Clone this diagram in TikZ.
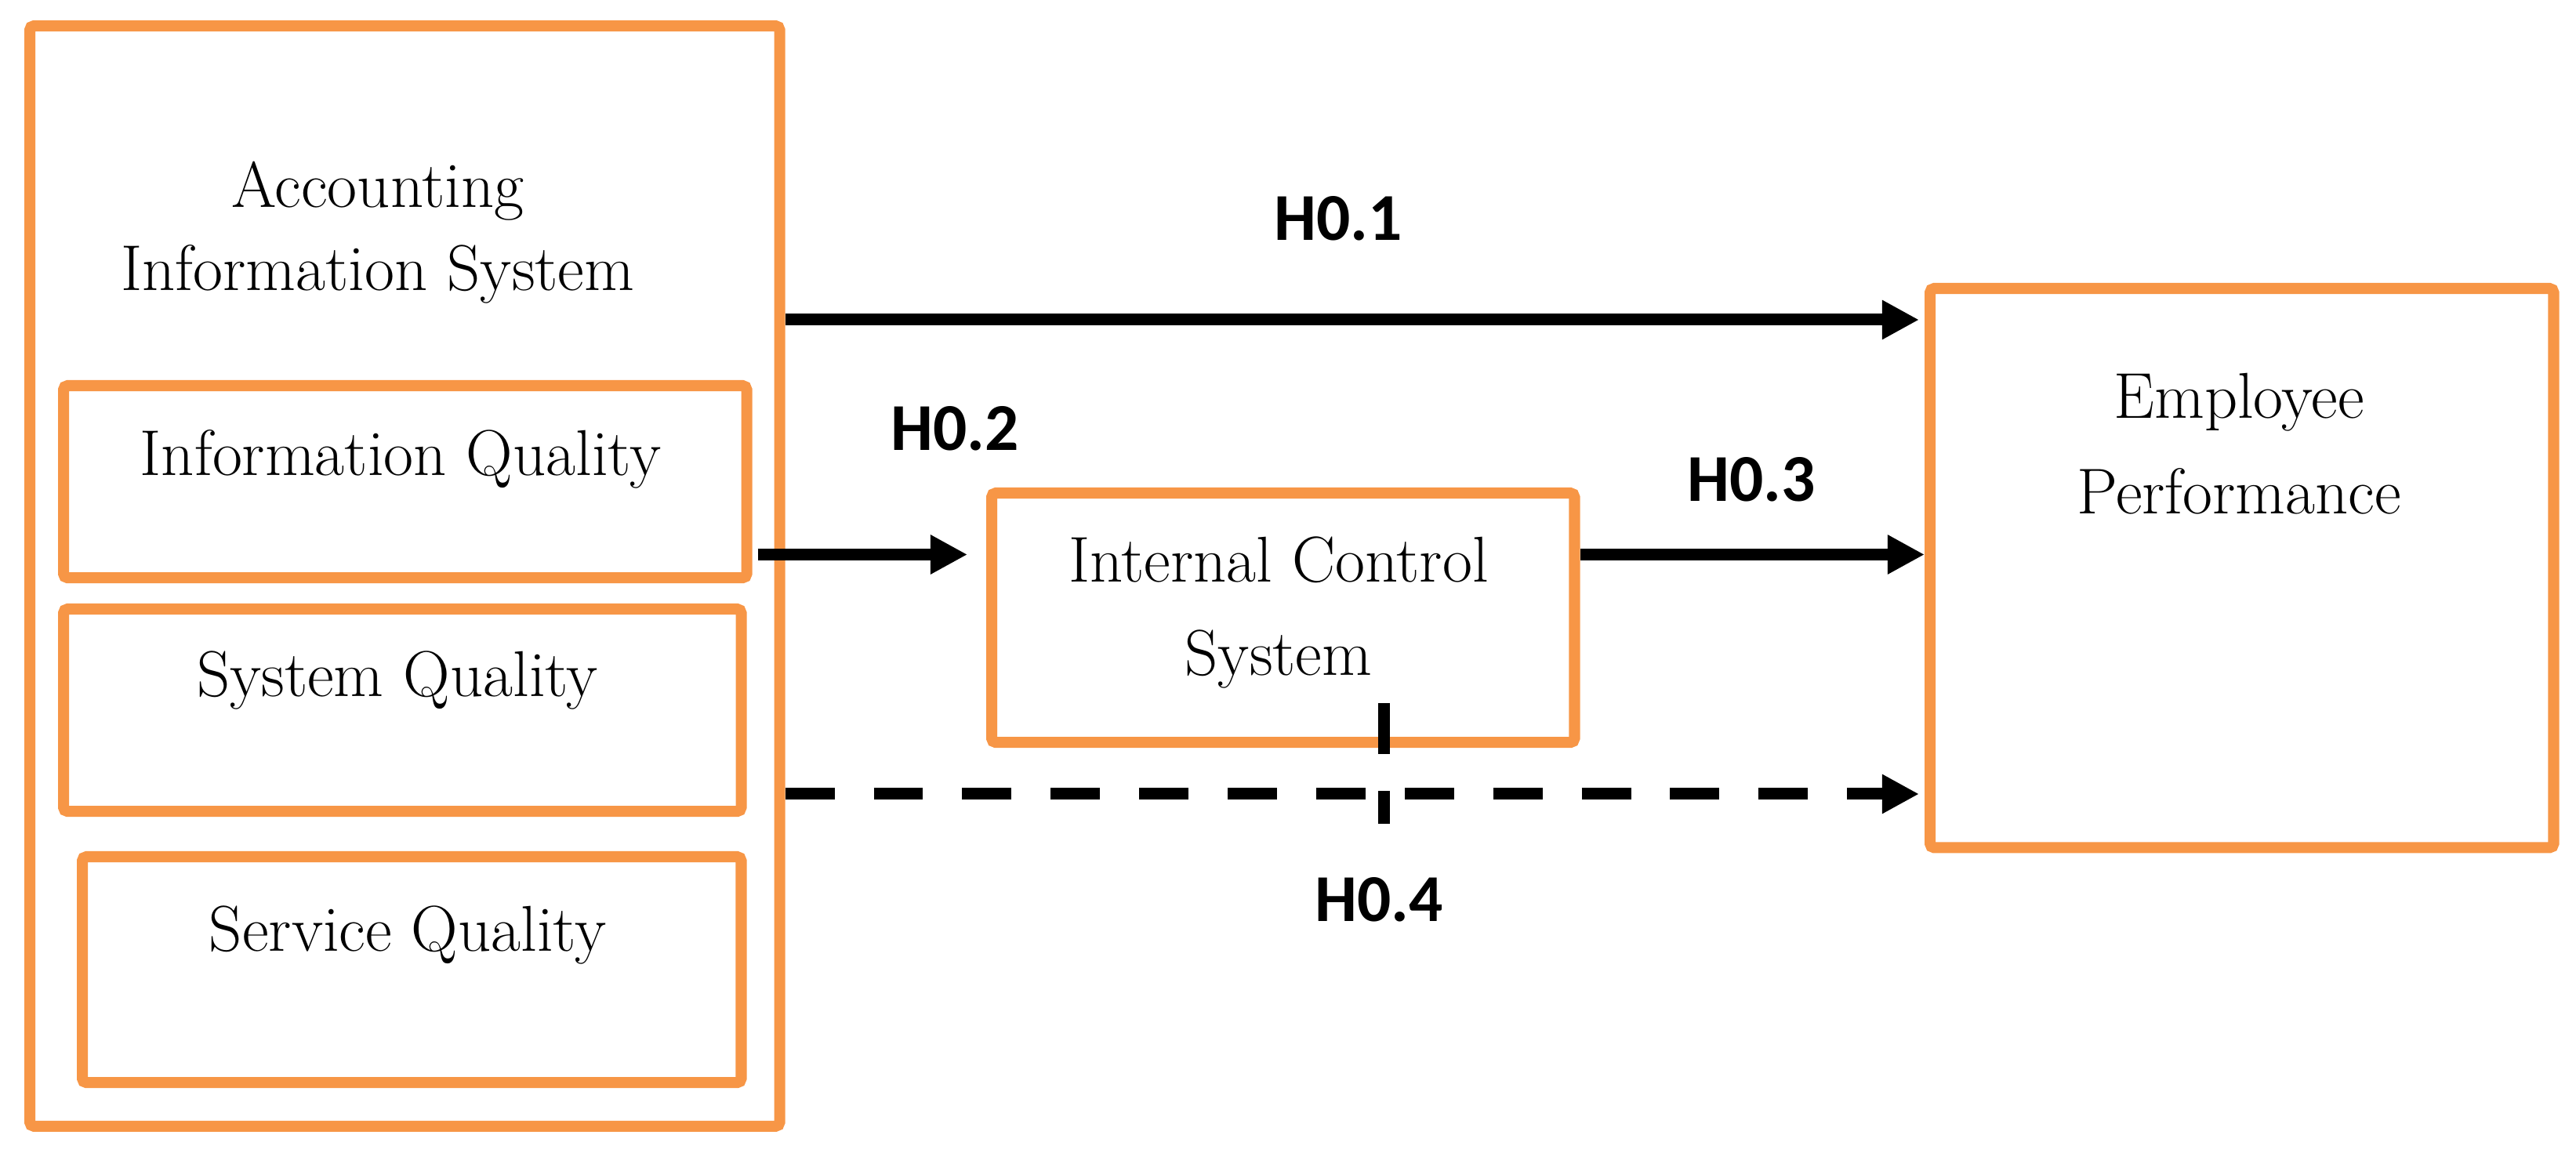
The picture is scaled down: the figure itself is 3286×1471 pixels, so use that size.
\documentclass[tikz,border=0pt]{standalone}
\usepackage{fontspec}
\newfontfamily\hfont{Carlito}
\usetikzlibrary{arrows.meta}
\definecolor{boxorange}{HTML}{F79646}
\begin{document}
\begin{tikzpicture}[x=0.01cm,y=-0.01cm,
  obox/.style={draw=boxorange, line width=4pt, rounded corners=1.5pt, inner sep=0pt, anchor=north west, fill=white},
  btext/.style={anchor=base, align=center, inner sep=0pt, font=\fontsize{23.5}{30.4}\selectfont},
  hlab/.style={anchor=base, inner sep=0pt, font=\hfont\bfseries\fontsize{24.3}{29}\selectfont},
  arr/.style={draw=black, line width=4.27pt, -{Triangle[length=13.4pt, width=13.4pt]}},
  tickline/.style={draw=black, line width=4.27pt, dash pattern=on 18.5pt off 13.4pt}]
\useasboundingbox (0,0) rectangle (3286,1471);
% boxes
\node[obox, minimum width=9.56cm, minimum height=14.03cm] (AIS) at (31,26) {};
\node[obox, minimum width=8.71cm, minimum height=2.45cm] (IQ) at (74,485) {};
\node[obox, minimum width=8.64cm, minimum height=2.58cm] (SQ) at (74,770) {};
\node[obox, minimum width=8.40cm, minimum height=2.88cm] (SvQ) at (98,1086) {};
\node[obox, minimum width=7.43cm, minimum height=3.18cm] (ICS) at (1258,622) {};
\node[obox, minimum width=7.95cm, minimum height=7.13cm] (EP) at (2455,361) {};
% texts (base = baseline of last line)
\node[btext] (tAIS) at (482,371) {Accounting\\Information System};
\node[btext] (tIQ) at (511,607) {Information Quality};
\node[btext] (tSQ) at (507,889) {System Quality};
\node[btext] (tSvQ) at (520,1214) {Service Quality};
\node[btext, font=\fontsize{23.5}{34.1}\selectfont] (tICS) at (1631,862) {Internal Control\\System};
\node[btext, font=\fontsize{23.5}{34.7}\selectfont] (tEP) at (2856,656) {Employee\\Performance};
% rows
\coordinate (r1) at (0,408);
\coordinate (r2) at (0,707.5);
\coordinate (r4) at (0,1013);
\coordinate (t1) at (1765,897);
\coordinate (t2) at (1765,1051);
% connectors
\draw[arr, shorten >=2pt] (AIS.east |- r1) -- (EP.west |- r1);
\draw[arr, shorten <=2pt, shorten >=6.8pt] (IQ.east |- r2) -- (ICS.west |- r2);
\draw[arr] (ICS.east |- r2) -- (EP.west |- r2);
\draw[arr, dash pattern=on 17.9pt off 14.2pt, shorten >=2pt] (AIS.east |- r4) -- (EP.west |- r4);
\draw[tickline] (t1) -- (t2);
% labels
\node[hlab] (h1) at (1707,307) {H0.1};
\node[hlab] (h2) at (1218,575) {H0.2};
\node[hlab] (h3) at (2234,640) {H0.3};
\node[hlab] (h4) at (1759,1176) {H0.4};
\end{tikzpicture}
\end{document}
